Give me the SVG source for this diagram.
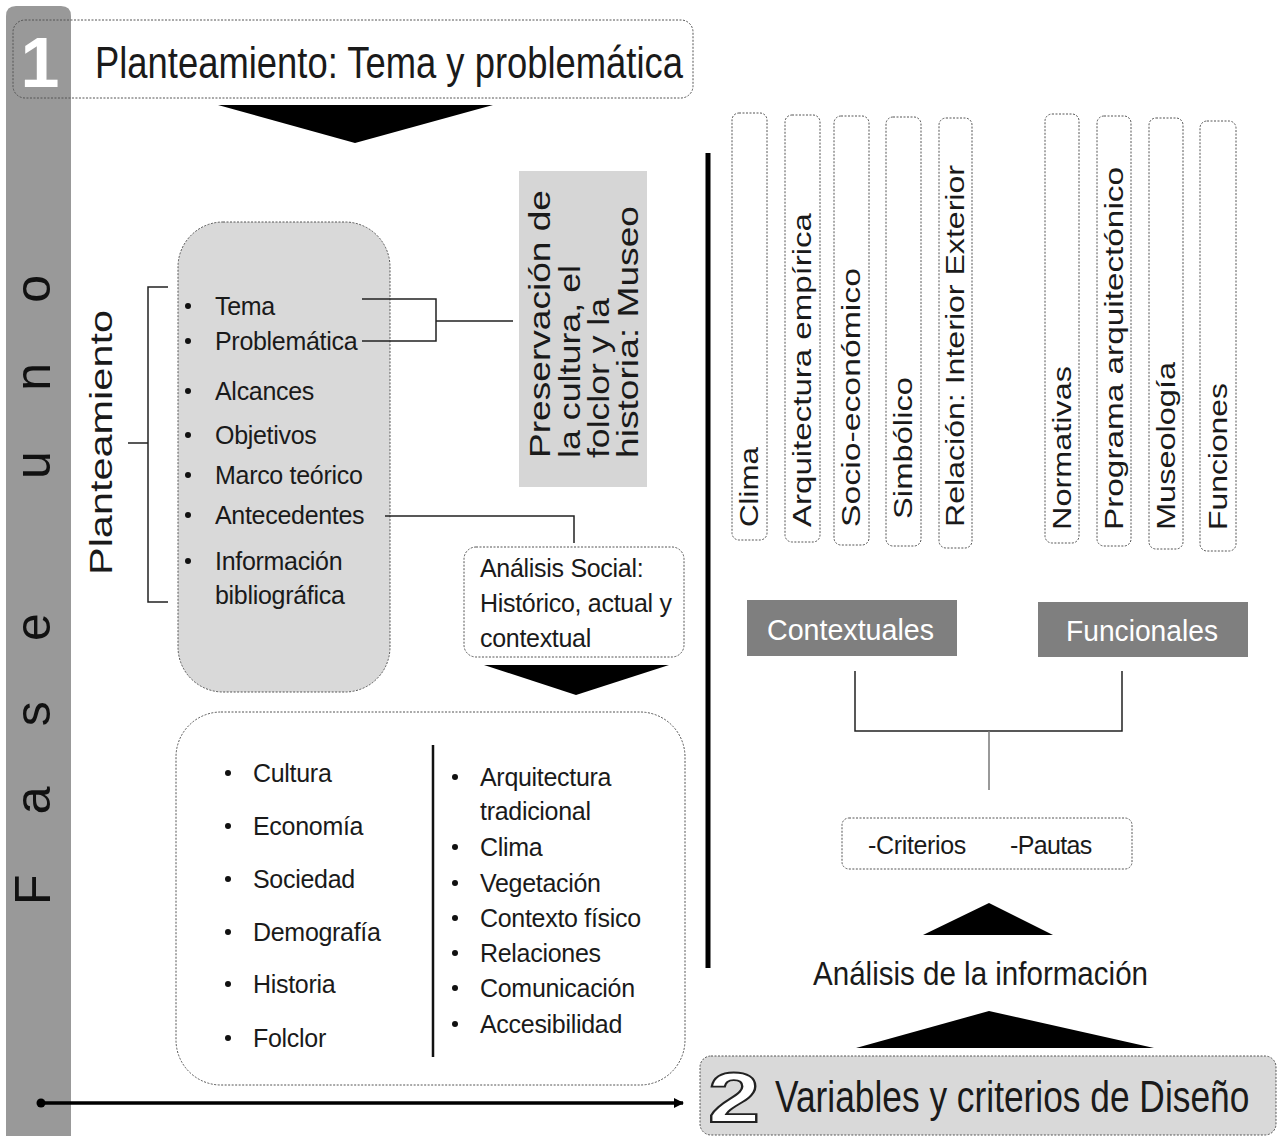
<svg xmlns="http://www.w3.org/2000/svg" width="1277" height="1136" viewBox="0 0 1277 1136">
<style>
  .t { font-family: "Liberation Sans", Arial, sans-serif; fill: #1a1a1a; }
  .b { font-size: 25px; letter-spacing: -0.3px; }
  .v { font-family: "Liberation Sans", Arial, sans-serif; font-size: 25px; fill: #1a1a1a; }
  .dash { fill: none; stroke: #555; stroke-width: 1; stroke-dasharray: 2 1.5; }
  .dashw { fill: #fff; stroke: #555; stroke-width: 1; stroke-dasharray: 2 1.5; }
  .dashg { fill: #d9d9d9; stroke: #555; stroke-width: 1; stroke-dasharray: 2 1.5; }
  .ln { fill: none; stroke: #222; stroke-width: 1.5; }
  .dot { fill: #111; }
  .dk { fill: #7f7f7f; }
  .wt { font-family: "Liberation Sans", Arial, sans-serif; font-size: 30px; fill: #fff; }
</style>
<defs>
  <marker id="ah" viewBox="0 0 10 10" refX="9" refY="5" markerWidth="3" markerHeight="3.2" orient="auto">
    <path d="M0,0 L10,5 L0,10 z" fill="#000"/>
  </marker>
</defs>
<rect width="1277" height="1136" fill="#fff"/>

<g id="fase-bar">
  <path d="M6,1136 V16 Q6,6 16,6 H61 Q71,6 71,16 V1136 Z" fill="#999"/>
  <text x="40" y="87" text-anchor="middle" style="font-family:'Liberation Sans',Arial,sans-serif;font-size:70px;font-weight:bold;fill:#fff">1</text>
  <text transform="translate(50,905) rotate(-90)" textLength="630" lengthAdjust="spacing" style="font-family:'Liberation Sans',Arial,sans-serif;font-size:50px;fill:#111">Fase uno</text>
</g>

<g id="header">
  <rect x="13" y="20" width="680" height="78" rx="12" class="dash"/>
  <text x="95" y="78" class="t" style="font-size:45px" textLength="588" lengthAdjust="spacingAndGlyphs">Planteamiento: Tema y problemática</text>
</g>

<g id="planteamiento-label">
  <text transform="translate(112,575) rotate(-90)" class="t" style="font-size:32px" textLength="265" lengthAdjust="spacingAndGlyphs">Planteamiento</text>
</g>

<g id="planteamiento-box">
  <rect x="178" y="222" width="212" height="470" rx="45" class="dashg"/>
  <g class="t b">
    <text x="215" y="315">Tema</text>
    <text x="215" y="350">Problemática</text>
    <text x="215" y="400">Alcances</text>
    <text x="215" y="444">Objetivos</text>
    <text x="215" y="484">Marco teórico</text>
    <text x="215" y="524">Antecedentes</text>
    <text x="215" y="570">Información</text>
    <text x="215" y="604">bibliográfica</text>
  </g>
  <g class="dot">
    <circle cx="188" cy="306" r="3"/>
    <circle cx="188" cy="341" r="3"/>
    <circle cx="188" cy="391" r="3"/>
    <circle cx="188" cy="435" r="3"/>
    <circle cx="188" cy="475" r="3"/>
    <circle cx="188" cy="515" r="3"/>
    <circle cx="188" cy="561" r="3"/>
  </g>
</g>

<g id="preservacion">
  <rect x="519" y="171" width="128" height="316" fill="#d6d6d6"/>
  <g style="font-family:'Liberation Sans',Arial,sans-serif;font-size:29px;fill:#1a1a1a">
    <text transform="translate(550,458) rotate(-90)" textLength="268" lengthAdjust="spacingAndGlyphs">Preservación de</text>
    <text transform="translate(580,458) rotate(-90)" textLength="193" lengthAdjust="spacingAndGlyphs">la cultura, el</text>
    <text transform="translate(609,458) rotate(-90)" textLength="160" lengthAdjust="spacingAndGlyphs">folclor y la</text>
    <text transform="translate(638,458) rotate(-90)" textLength="252" lengthAdjust="spacingAndGlyphs">historia: Museo</text>
  </g>
</g>

<g id="analisis-social">
  <rect x="464" y="547" width="220" height="110" rx="12" class="dashw"/>
  <g class="t b">
    <text x="480" y="577">Análisis Social:</text>
    <text x="480" y="612">Histórico, actual y</text>
    <text x="480" y="647">contextual</text>
  </g>
</g>

<g id="factores-box">
  <rect x="176" y="712" width="509" height="373" rx="45" class="dashw"/>
  <line x1="433" y1="745" x2="433" y2="1057" stroke="#111" stroke-width="2.5"/>
  <g class="t b">
    <text x="253" y="782">Cultura</text>
    <text x="253" y="835">Economía</text>
    <text x="253" y="888">Sociedad</text>
    <text x="253" y="941">Demografía</text>
    <text x="253" y="993">Historia</text>
    <text x="253" y="1047">Folclor</text>
    <text x="480" y="786">Arquitectura</text>
    <text x="480" y="820">tradicional</text>
    <text x="480" y="856">Clima</text>
    <text x="480" y="892">Vegetación</text>
    <text x="480" y="927">Contexto físico</text>
    <text x="480" y="962">Relaciones</text>
    <text x="480" y="997">Comunicación</text>
    <text x="480" y="1033">Accesibilidad</text>
  </g>
  <g class="dot">
    <circle cx="228" cy="773" r="3"/>
    <circle cx="228" cy="826" r="3"/>
    <circle cx="228" cy="879" r="3"/>
    <circle cx="228" cy="932" r="3"/>
    <circle cx="228" cy="984" r="3"/>
    <circle cx="228" cy="1038" r="3"/>
    <circle cx="455" cy="777" r="3"/>
    <circle cx="455" cy="847" r="3"/>
    <circle cx="455" cy="883" r="3"/>
    <circle cx="455" cy="918" r="3"/>
    <circle cx="455" cy="953" r="3"/>
    <circle cx="455" cy="988" r="3"/>
    <circle cx="455" cy="1024" r="3"/>
  </g>
</g>

<g id="variables-contextuales">
  <rect x="732" y="113" width="35" height="427" rx="7" class="dash"/>
  <rect x="785" y="115" width="35" height="427" rx="7" class="dash"/>
  <rect x="834" y="116" width="35" height="429" rx="7" class="dash"/>
  <rect x="886" y="117" width="35" height="429" rx="7" class="dash"/>
  <rect x="939" y="118" width="33" height="430" rx="7" class="dash"/>
  <text class="v" transform="translate(758,527) rotate(-90)" textLength="80" lengthAdjust="spacingAndGlyphs">Clima</text>
  <text class="v" transform="translate(811,527) rotate(-90)" textLength="314" lengthAdjust="spacingAndGlyphs">Arquitectura  empírica</text>
  <text class="v" transform="translate(860,527) rotate(-90)" textLength="259" lengthAdjust="spacingAndGlyphs">Socio-económico</text>
  <text class="v" transform="translate(912,519) rotate(-90)" textLength="142" lengthAdjust="spacingAndGlyphs">Simbólico</text>
  <text class="v" transform="translate(964,527) rotate(-90)" textLength="362" lengthAdjust="spacingAndGlyphs">Relación: Interior Exterior</text>
</g>

<g id="variables-funcionales">
  <rect x="1045" y="114" width="34" height="429" rx="7" class="dash"/>
  <rect x="1097" y="116" width="34" height="430" rx="7" class="dash"/>
  <rect x="1149" y="118" width="34" height="431" rx="7" class="dash"/>
  <rect x="1200" y="121" width="36" height="430" rx="7" class="dash"/>
  <text class="v" transform="translate(1071,530) rotate(-90)" textLength="164" lengthAdjust="spacingAndGlyphs">Normativas</text>
  <text class="v" transform="translate(1123,530) rotate(-90)" textLength="363" lengthAdjust="spacingAndGlyphs">Programa arquitectónico</text>
  <text class="v" transform="translate(1175,530) rotate(-90)" textLength="168" lengthAdjust="spacingAndGlyphs">Museología</text>
  <text class="v" transform="translate(1227,530) rotate(-90)" textLength="147" lengthAdjust="spacingAndGlyphs">Funciones</text>
</g>

<g id="contextuales">
  <rect x="747" y="600" width="210" height="56" class="dk"/>
  <text x="767" y="640" class="wt" textLength="167" lengthAdjust="spacingAndGlyphs">Contextuales</text>
</g>

<g id="funcionales">
  <rect x="1038" y="602" width="210" height="55" class="dk"/>
  <text x="1066" y="641" class="wt" textLength="152" lengthAdjust="spacingAndGlyphs">Funcionales</text>
</g>

<g id="criterios">
  <rect x="842" y="818" width="290" height="51" rx="7" class="dashw"/>
  <text x="868" y="854" class="t b" textLength="98">-Criterios</text>
  <text x="1010" y="854" class="t b" textLength="82">-Pautas</text>
</g>

<g id="analisis-informacion">
  <text x="813" y="985" class="t" style="font-size:34px" textLength="335" lengthAdjust="spacingAndGlyphs">Análisis de la información</text>
</g>

<g id="fase-dos">
  <rect x="700" y="1056" width="576" height="79" rx="11" class="dashg"/>
  <text x="708" y="1122" textLength="52" lengthAdjust="spacingAndGlyphs" style="font-family:'Liberation Sans',Arial,sans-serif;font-size:70px;font-weight:bold;fill:#fff;stroke:#222;stroke-width:1.8">2</text>
  <text transform="translate(775,1112) scale(0.785,1)" class="t" style="font-size:45px">Variables y criterios de Diseño</text>
</g>

<g id="connectors">
  <path d="M218,105 L493,105 L355,143 Z" fill="#000"/>
  <path d="M484,665 L669,665 L576,695 Z" fill="#000"/>
  <path d="M923,935 L1053,935 L989,903 Z" fill="#000"/>
  <path d="M856,1048 L1154,1048 L989,1011 Z" fill="#000"/>
  <path d="M168,287 H148 V602 H168 M128,443 H148" class="ln"/>
  <path d="M362,299 H436 V341 H362 M436,321 H513" class="ln"/>
  <path d="M385,516 H574 V543" class="ln"/>
  <line x1="708" y1="153" x2="708" y2="968" stroke="#000" stroke-width="5"/>
  <path d="M855,671 V731 H1122 V671" class="ln"/>
  <line x1="989" y1="731" x2="989" y2="790" stroke="#777" stroke-width="1.5"/>
  <circle cx="41" cy="1103" r="4.5" fill="#000"/>
  <line x1="41" y1="1103" x2="683" y2="1103" stroke="#000" stroke-width="3.5" marker-end="url(#ah)"/>
</g>
</svg>
